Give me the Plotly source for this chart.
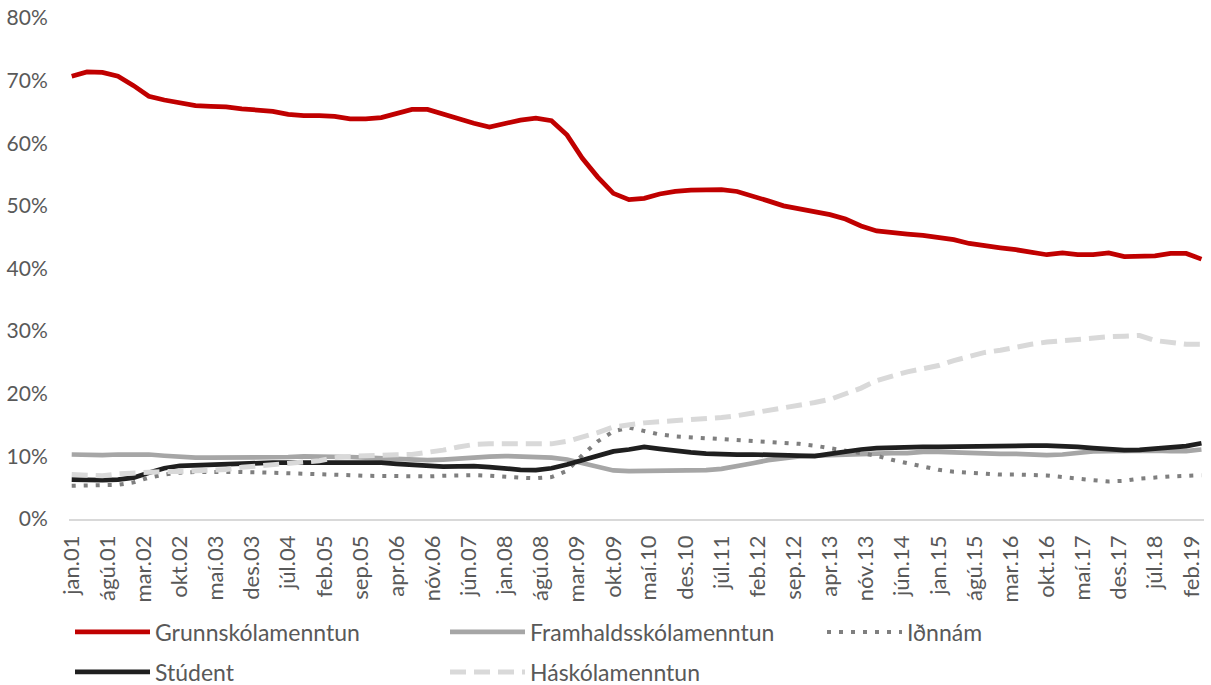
import pandas as pd
import plotly.graph_objects as go

# Quarterly samples, jan.01 .. apr.19 (share of labour force, %)
DATES = pd.date_range("2001-01-01", periods=74, freq="3MS")

GRUNNSKOLI = [70.7, 71.4, 71.3, 70.7, 69.2, 67.5, 66.9, 66.4, 66.0, 65.9,
              65.8, 65.5, 65.3, 65.1, 64.6, 64.4, 64.4, 64.3, 63.9, 63.9,
              64.1, 64.8, 65.4, 65.4, 64.6, 64.0, 63.2, 62.6, 63.2, 63.7,
              64.0, 63.6, 61.3, 57.6, 54.6, 52.0, 51.0, 51.2, 51.9, 52.3,
              52.5, 52.6, 52.6, 52.3, 51.6, 50.8, 50.0, 49.5, 49.1, 48.6,
              47.9, 46.8, 46.0, 45.7, 45.5, 45.3, 45.0, 44.6, 44.0, 43.6,
              43.3, 43.0, 42.6, 42.2, 42.5, 42.2, 42.2, 42.5, 41.9, 41.9,
              42.0, 42.4, 42.4, 41.5]

FRAMHALDS = [10.3, 10.2, 10.2, 10.3, 10.3, 10.3, 10.1, 9.9, 9.8, 9.8,
             9.8, 9.8, 9.8, 9.9, 9.9, 10.0, 10.0, 10.0, 9.9, 9.8,
             9.7, 9.6, 9.5, 9.4, 9.5, 9.7, 9.85, 9.95, 10.05, 10.0,
             10.0, 9.8, 9.5, 8.9, 8.2, 7.75, 7.65, 7.65, 7.65, 7.7,
             7.7, 7.8, 8.0, 8.4, 8.9, 9.4, 9.75, 10.0, 10.1, 10.2,
             10.3, 10.35, 10.4, 10.5, 10.5, 10.7, 10.7, 10.6, 10.6, 10.5,
             10.4, 10.4, 10.3, 10.2, 10.3, 10.6, 10.8, 10.85, 10.9, 10.9,
             10.9, 10.85, 10.85, 11.1]

IDNNAM = [5.3, 5.3, 5.3, 5.45, 5.85, 6.6, 7.1, 7.4, 7.5, 7.55,
          7.55, 7.5, 7.45, 7.4, 7.35, 7.3, 7.25, 7.1, 7.0, 6.9,
          6.85, 6.8, 6.75, 6.8, 6.9, 7.0, 7.0, 6.9, 6.7, 6.6,
          6.5, 6.7, 7.7, 10.2, 12.4, 14.0, 14.6, 14.1, 13.5, 13.2,
          13.05, 12.85, 12.7, 12.5, 12.4, 12.25, 12.1, 12.0, 11.7, 11.3,
          10.9, 10.55, 10.1, 9.45, 8.9, 8.3, 7.85, 7.55, 7.4, 7.2,
          7.1, 7.1, 7.05, 6.95, 6.7, 6.4, 6.2, 6.0, 6.1, 6.45,
          6.7, 6.8, 6.9, 7.0]

STUDENT = [6.3, 6.2, 6.2, 6.3, 6.6, 7.4, 8.1, 8.5, 8.6, 8.7,
           8.8, 8.9, 9.0, 9.0, 9.0, 9.0, 9.0, 9.05, 9.1, 9.1,
           9.0, 8.8, 8.6, 8.4, 8.35, 8.4, 8.45, 8.3, 8.0, 7.85,
           7.8, 8.1, 8.7, 9.4, 10.2, 10.8, 11.1, 11.5, 11.2, 10.85,
           10.65, 10.45, 10.3, 10.3, 10.3, 10.25, 10.2, 10.1, 10.05, 10.4,
           10.8, 11.1, 11.3, 11.4, 11.45, 11.5, 11.5, 11.55, 11.6, 11.7,
           11.7, 11.7, 11.7, 11.7, 11.65, 11.5, 11.3, 11.1, 11.0, 11.05,
           11.3, 11.55, 11.65, 12.1]

HASKOLI = [7.1, 7.0, 6.9, 7.2, 7.4, 7.6, 7.6, 7.6, 7.65, 7.7,
           7.9, 8.25, 8.5, 8.8, 9.0, 9.1, 9.3, 9.8, 10.0, 10.15,
           10.2, 10.25, 10.3, 10.6, 11.0, 11.5, 11.9, 12.0, 12.0, 11.9,
           11.9, 12.0, 12.4, 13.0, 13.8, 14.7, 15.1, 15.35, 15.55, 15.7,
           15.8, 16.0, 16.2, 16.5, 16.9, 17.35, 17.7, 18.1, 18.6, 19.1,
           19.9, 20.9, 22.1, 22.9, 23.5, 24.0, 24.5, 25.3, 26.0, 26.6,
           26.95, 27.5, 27.9, 28.25, 28.5, 28.7, 29.0, 29.1, 29.2, 29.3,
           28.5, 28.1, 27.9, 27.9]

TICK_DATES = pd.date_range("2001-01-01", periods=32, freq="7MS")
TICK_LABELS = ["jan.01", "ágú.01", "mar.02", "okt.02", "maí.03", "des.03",
               "júl.04", "feb.05", "sep.05", "apr.06", "nóv.06", "jún.07",
               "jan.08", "ágú.08", "mar.09", "okt.09", "maí.10", "des.10",
               "júl.11", "feb.12", "sep.12", "apr.13", "nóv.13", "jún.14",
               "jan.15", "ágú.15", "mar.16", "okt.16", "maí.17", "des.17",
               "júl.18", "feb.19"]

SERIES = [
    ("Grunnskólamenntun", GRUNNSKOLI, "#C00000", "solid", 4.75, "legend"),
    ("Framhaldsskólamenntun", FRAMHALDS, "#A6A6A6", "solid", 4.75, "legend2"),
    ("Iðnnám", IDNNAM, "#7F7F7F", "4px,8px", 4, "legend3"),
    ("Stúdent", STUDENT, "#1F1F1F", "solid", 4.75, "legend4"),
    ("Háskólamenntun", HASKOLI, "#D9D9D9", "16px,8px", 5, "legend5"),
]

FONT = "Lato, 'Open Sans', sans-serif"
TXT = "#595959"

fig = go.Figure()
for name, vals, color, dash, width, leg in SERIES:
    fig.add_trace(go.Scatter(
        x=DATES, y=vals, name=name, mode="lines",
        line=dict(color=color, width=width, dash=dash),
        legend=leg,
    ))

# page body margin is removed (post_script), so the figure fills the window
W, H = 1211, 685
# plot area in screen pixels: x 69..1204, y 18..519
L, R, T, B = 69, 1211 - 1204, 18, 685 - 519
pw, ph = W - L - R, H - T - B

def px2paper(px, py):
    return (px - L) / pw, (H - B - py) / ph

legend_pos = {
    "legend": (70, 632),
    "legend2": (445, 632),
    "legend3": (822, 632),
    "legend4": (70, 672),
    "legend5": (445, 672),
}
legends = {}
for key, (px, py) in legend_pos.items():
    lx, ly = px2paper(px, py)
    legends[key] = dict(
        x=lx, y=ly, xanchor="left", yanchor="middle",
        orientation="h", bgcolor="rgba(0,0,0,0)",
        font=dict(family=FONT, size=23, color=TXT),
        itemwidth=75,
    )

fig.update_layout(
    width=W, height=H,
    margin=dict(l=L, r=R, t=T, b=B, autoexpand=False),
    paper_bgcolor="white", plot_bgcolor="white",
    showlegend=True,
    xaxis=dict(
        range=["2000-12-16", "2019-04-16"],
        tickmode="array", tickvals=TICK_DATES, ticktext=TICK_LABELS,
        tickangle=-90, showgrid=False, zeroline=False,
        showline=True, linecolor="#D9D9D9", linewidth=1.5,
        ticks="outside", ticklen=6, tickcolor="rgba(0,0,0,0)",
        tickfont=dict(family=FONT, size=22, color=TXT),
    ),
    yaxis=dict(
        range=[0, 80], dtick=10, ticksuffix="%",
        showgrid=False, zeroline=False, showline=False,
        ticks="outside", ticklen=16, tickcolor="rgba(0,0,0,0)",
        tickfont=dict(family=FONT, size=21, color=TXT),
        ticklabeloverflow="allow",
    ),
    **legends,
)

fig.write_html(
    "out.html",
    config={"displayModeBar": False},
    post_script="document.body.style.margin='0';document.body.style.overflow='hidden';",
)
